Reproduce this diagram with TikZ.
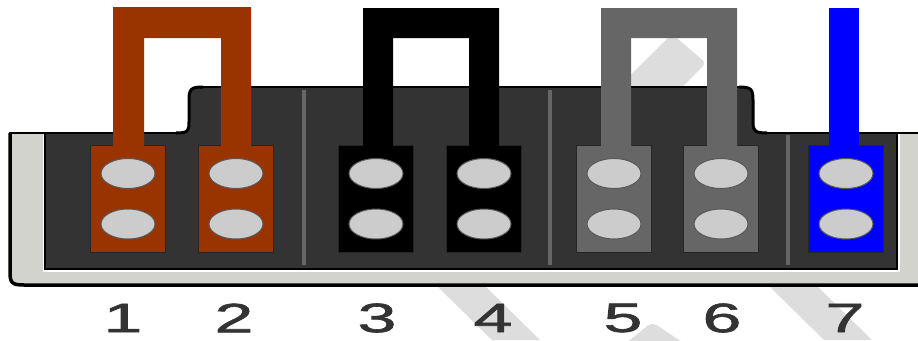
\documentclass[tikz,border=0pt]{standalone}
\usepackage{fontspec}
\setmainfont{Liberation Sans}
\newfontfamily\numfont[FakeBold=1.4]{Liberation Sans}
\usepackage{tikz}
\usetikzlibrary{shapes.geometric}
\definecolor{plugdark}{HTML}{333333}
\definecolor{plugcream}{HTML}{D3D3CD}
\definecolor{pinhole}{HTML}{CCCCCC}
\definecolor{wmgrey}{HTML}{DDDDDD}
\definecolor{wirebrown}{HTML}{993300}
\definecolor{wiregrey}{HTML}{666666}
\definecolor{wireblue}{HTML}{0000FF}
\tikzset{
  padbox/.style={draw=black!85, line width=0.6pt, minimum width=75pt, minimum height=107pt, inner sep=0pt},
  pinoval/.style={ellipse, draw=black!65, fill=pinhole, line width=1pt, minimum width=54pt, minimum height=30pt, inner sep=0pt},
  pinnum/.style={text=plugdark, font=\numfont\fontsize{41}{41}\selectfont, xscale=1.7, inner sep=0pt},
  divider/.style={line width=3.5pt, draw=wiregrey}
}
\begin{document}
\begin{tikzpicture}[x=1pt, y=-1pt]
  \useasboundingbox (0,0) rectangle (918,340);
  % watermark behind the plug
  \fill[wmgrey, rounded corners=4pt] (600,105) -- (672,34) -- (706,63) -- (640,130) -- cycle;
  \fill[wmgrey] (436,285) -- (484,285) -- (540,340) -- (492,340) -- cycle;
  \fill[wmgrey, rounded corners=6pt] (618,350) -- (652,322) -- (694,350) -- cycle;
  \fill[wmgrey] (768,285) -- (816,285) -- (872,340) -- (824,340) -- cycle;
  % housing
  \fill[plugcream] (10,133) -- (918,133) -- (918,285) -- (24,285) .. controls (12,285) and (10,283) .. (10,272) -- cycle;
  \fill[plugdark] (176,134) .. controls (188,134) and (189,131) .. (189,122)
    -- (189,100) .. controls (189,89) and (191,87) .. (203,87) -- (739,87) .. controls (751,87) and (753,89) .. (753,100)
    -- (753,122) .. controls (753,131) and (755,134) .. (767,134) -- cycle;
  \draw[white, line width=2pt] (44,133) -- (44,271) -- (899,271) -- (899,133);
  \fill[plugdark] (45,133) rectangle (897,269);
  \draw[black, line width=1.2pt] (45,133) -- (45,269) -- (897,269) -- (897,133);
  \draw[black, line width=1.5pt] (9,133) -- (176,133);
  \draw[black, line width=1.5pt] (767,133) -- (918,133);
  \draw[black, line width=2pt] (203,87) -- (739,87);
  \draw[black, line width=3pt] (176,133) .. controls (188,133) and (189,131) .. (189,122)
    -- (189,100) .. controls (189,89) and (191,87) .. (203,87);
  \draw[black, line width=3pt] (739,87) .. controls (751,87) and (753,89) .. (753,100)
    -- (753,122) .. controls (753,131) and (755,133) .. (767,133);
  \draw[black, line width=3.5pt] (10,133) -- (10,272) .. controls (10,283) and (12,285) .. (24,285) -- (918,285);
  % dividers between the pin groups
  \coordinate (d1t) at (304,90); \coordinate (d1b) at (304,265);
  \coordinate (d2t) at (550,90); \coordinate (d2b) at (550,265);
  \coordinate (d3t) at (788,135); \coordinate (d3b) at (788,265);
  \draw[divider] (d1t) -- (d1b);
  \draw[divider] (d2t) -- (d2b);
  \draw[divider] (d3t) -- (d3b);
  % pads, holes and numbers
  \foreach \idx/\cx/\cc/\lx in {1/128/wirebrown/123, 2/236/wirebrown/234, 3/376/black/377, 4/484/black/493, 5/614/wiregrey/623, 6/721/wiregrey/722, 7/846/wireblue/845}{
    \node[padbox, fill=\cc] (pad\idx) at (\cx,198.5) {};
    \node[pinoval] (up\idx) at (\cx,173.5) {};
    \node[pinoval] (lo\idx) at (\cx,224) {};
    \node[pinnum] (num\idx) at (\lx,318) {\idx};
  }
  % jumper wires
  \fill[wirebrown] (113,146) -- (113,7) -- (251,7) -- (251,146) -- (221,146) -- (221,38) -- (144,38) -- (144,146) -- cycle;
  \fill[black] (363,146) -- (363,8) -- (499,8) -- (499,146) -- (469,146) -- (469,38) -- (393,38) -- (393,146) -- cycle;
  \fill[wiregrey] (601,146) -- (601,8) -- (737,8) -- (737,146) -- (707,146) -- (707,38) -- (631,38) -- (631,146) -- cycle;
  \fill[wireblue] (829,8) rectangle (859,146);
\end{tikzpicture}
\end{document}
